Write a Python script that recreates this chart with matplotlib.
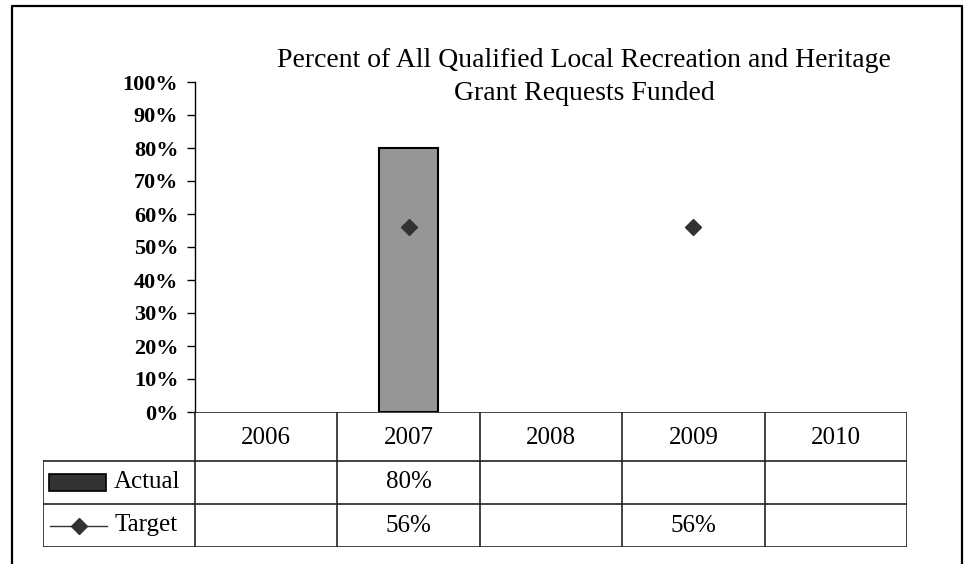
import numpy as np
import matplotlib.pyplot as plt
from matplotlib.lines import Line2D
from matplotlib.patches import Rectangle

plt.rcParams['font.family'] = ['Liberation Serif', 'DejaVu Serif']

years = ['2006', '2007', '2008', '2009', '2010']
actual = [np.nan, 0.80, np.nan, np.nan, np.nan]
target = [np.nan, 0.56, np.nan, 0.56, np.nan]
yticks = np.arange(0, 1.01, 0.1)
title = 'Percent of All Qualified Local Recreation and Heritage\nGrant Requests Funded'

W, H = 966, 564
fig = plt.figure(figsize=(W / 100, H / 100), dpi=100)

# outer chart border (bottom edge is cut off in the picture)
fig.add_artist(Line2D([12 / W, 12 / W, 962 / W, 962 / W],
                      [0, 1 - 6 / H, 1 - 6 / H, 0], color='black', lw=1.6))

# main plot area
ax = fig.add_axes([195 / W, 1 - 412 / H, (907 - 195) / W, (412 - 82) / H])
x = np.arange(len(years))
ax.bar(x, actual, width=0.41, color='#969696', edgecolor='black', linewidth=1.5, zorder=2)
ax.plot(x, target, linestyle='none', marker='D', markersize=8, color='#333333', zorder=3)
ax.set_xlim(-0.5, len(years) - 0.5)
ax.set_ylim(0, 1)
ax.set_yticks(yticks)
ax.set_yticklabels([f'{int(round(v * 100))}%' for v in yticks], fontsize=16, fontweight='bold')
ax.tick_params(axis='y', direction='out', length=6, width=1, pad=6)
ax.set_xticks([])
for s in ['top', 'right', 'bottom']:
    ax.spines[s].set_visible(False)
ax.spines['left'].set_linewidth(1)
fig.text(584 / W, 1 - 77 / H, title, ha='center', va='center', fontsize=20, linespacing=1.45)

# data table below the plot: x in category units, y in rows (header row is taller)
lab_w = 152 / 142.4
rows = [0, 49 / 45, 92 / 45, 3]
tab = fig.add_axes([43 / W, 1 - 547 / H, (907 - 43) / W, (547 - 412) / H])
tab.set_xlim(-0.5 - lab_w, len(years) - 0.5)
tab.set_ylim(3, 0)
tab.axis('off')
edges = np.arange(len(years) + 1) - 0.5
lc = '#222222'
# horizontal lines
tab.plot([edges[0], edges[-1]], [rows[0], rows[0]], color=lc, lw=1.2)
for r in rows[1:]:
    tab.plot([edges[0] - lab_w, edges[-1]], [r, r], color=lc, lw=1.2)
# vertical lines
for e in edges:
    tab.plot([e, e], [rows[0], rows[-1]], color=lc, lw=1.2)
tab.plot([edges[0] - lab_w] * 2, [rows[1], rows[-1]], color=lc, lw=1.2)

mid = [(rows[k] + rows[k + 1]) / 2 for k in range(3)]
fs = 18
for i, yr in enumerate(years):
    tab.text(i, mid[0] + 0.03, yr, ha='center', va='center', fontsize=fs)
    if not np.isnan(actual[i]):
        tab.text(i, mid[1], f'{int(round(actual[i] * 100))}%', ha='center', va='center', fontsize=fs)
    if not np.isnan(target[i]):
        tab.text(i, mid[2], f'{int(round(target[i] * 100))}%', ha='center', va='center', fontsize=fs)

# legend keys inside the table
x0 = edges[0] - lab_w
tab.add_patch(Rectangle((x0 + 0.045, mid[1] - 0.2), 0.40, 0.38, facecolor='#333333',
                        edgecolor='black', lw=1.2))
tab.text(x0 + 0.5, mid[1], 'Actual', ha='left', va='center', fontsize=fs)
tab.plot([x0 + 0.05, x0 + 0.45], [mid[2], mid[2]], color='#333333', lw=1)
tab.plot([x0 + 0.25], [mid[2]], marker='D', markersize=8, color='#333333')
tab.text(x0 + 0.5, mid[2], 'Target', ha='left', va='center', fontsize=fs)

fig.savefig('out.png', dpi=100)
